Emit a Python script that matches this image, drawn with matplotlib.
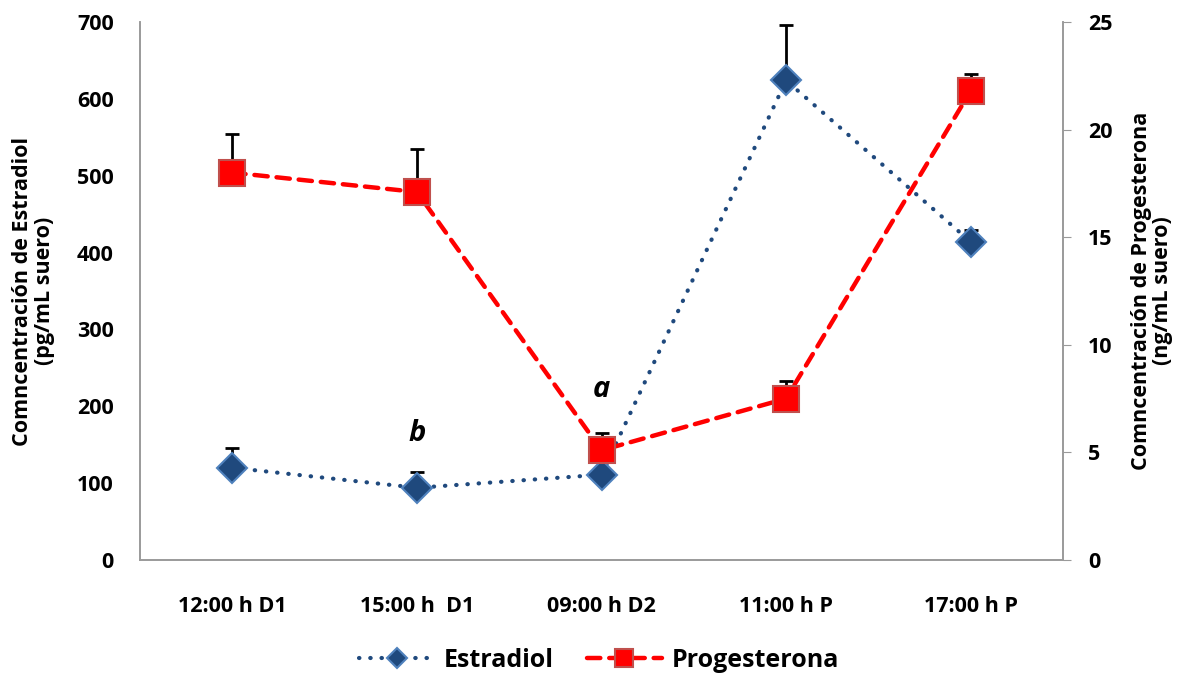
import matplotlib.pyplot as plt

# sampling times and hormone concentrations (mean and upper error)
times = ['12:00 h D1', '15:00 h  D1', '09:00 h D2', '11:00 h P', '17:00 h P']
estradiol = [120, 94, 111, 624, 414]
estradiol_err = [26, 20, 0, 72, 15]
progesterona = [18.0, 17.1, 5.1, 7.5, 21.8]
progesterona_err = [1.8, 2.0, 0.8, 0.8, 0.8]

plt.rcParams['font.family'] = ['Open Sans', 'DejaVu Sans']
plt.rcParams['font.weight'] = 'bold'

fig = plt.figure(figsize=(11.98, 6.77), dpi=100)
ax = fig.add_axes([0.1169, 0.1728, 0.7704, 0.7947])
ax2 = ax.twinx()

x = list(range(len(times)))
grey = '#9a9a9a'

ax.errorbar(x, estradiol, yerr=[[0] * 5, estradiol_err], fmt='none',
            ecolor='black', elinewidth=2, capsize=5, capthick=2, zorder=2)
l1, = ax.plot(x, estradiol, color='#1F497D', linestyle=(0, (0.1, 2.6)),
              dash_capstyle='round', linewidth=3.0, marker='D', markersize=15,
              markerfacecolor='#1F497D', markeredgecolor='#4F81BD',
              markeredgewidth=1.5, label='Estradiol', zorder=3)

ax2.errorbar(x, progesterona, yerr=[[0] * 5, progesterona_err], fmt='none',
             ecolor='black', elinewidth=2, capsize=5, capthick=2, zorder=2)
l2, = ax2.plot(x, progesterona, color='#FF0000', linestyle=(0, (3, 2)),
               dash_capstyle='round', linewidth=3.2, marker='s', markersize=19,
               markerfacecolor='#FF0000', markeredgecolor='#C0504D',
               markeredgewidth=1.5, label='Progesterona', zorder=3)

ax.set_xlim(-0.5, 4.5)
ax.set_ylim(0, 700)
ax2.set_ylim(0, 25)
ax.set_yticks(range(0, 701, 100))
ax2.set_yticks(range(0, 26, 5))
ax.set_xticks(x)
ax.set_xticklabels(times, fontsize=15.5, fontweight='bold')

ax.tick_params(axis='y', length=0, labelsize=15.5, pad=19)
ax.tick_params(axis='x', length=0, pad=26)
ax2.tick_params(axis='y', length=6, color=grey, labelsize=15.5, pad=12)
for t in ax.get_yticklabels() + ax2.get_yticklabels():
    t.set_fontweight('bold')

for a in (ax, ax2):
    a.spines['top'].set_visible(False)
    for s in ('left', 'right', 'bottom'):
        a.spines[s].set_color(grey)
        a.spines[s].set_linewidth(1.2)

ax.set_ylabel('Comncentración de Estradiol\n(pg/mL suero)', fontsize=15.5,
              fontweight='bold', labelpad=16, linespacing=1.05)
ax2.set_ylabel('Comncentración de Progesterona\n(ng/mL suero)', fontsize=15.5,
               fontweight='bold', labelpad=13, linespacing=1.05)

ax.text(1, 165, 'b', fontsize=21, fontweight='bold', style='italic',
        ha='center', va='center')
ax.text(2, 222, 'a', fontsize=21, fontweight='bold', style='italic',
        ha='center', va='center')

fig.legend(handles=[l1, l2], loc='center', bbox_to_anchor=(0.5, 0.025),
           ncol=2, frameon=False, handlelength=3.0, markerscale=0.7,
           columnspacing=1.3, handletextpad=0.4,
           prop={'weight': 'bold', 'size': 18})

fig.savefig('out.png', dpi=100)
